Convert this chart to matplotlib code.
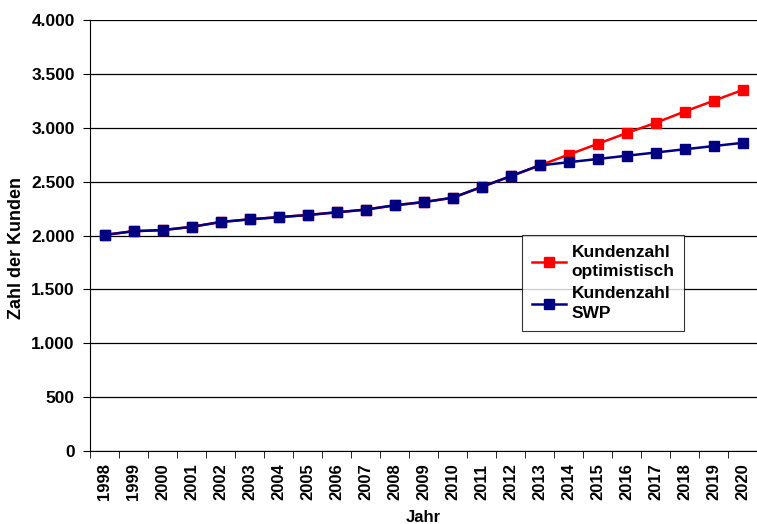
import matplotlib
matplotlib.use("Agg")
import matplotlib.pyplot as plt
from matplotlib.ticker import FuncFormatter

plt.rcParams['font.family'] = ['Liberation Sans', 'DejaVu Sans']

years = [str(y) for y in range(1998, 2021)]
kunden_opt = [2005, 2040, 2050, 2080, 2125, 2150, 2170, 2190, 2215, 2240, 2280, 2310, 2350,
              2450, 2550, 2650, 2750, 2850, 2950, 3045, 3150, 3250, 3350]
kunden_swp = [2005, 2040, 2050, 2080, 2125, 2150, 2170, 2190, 2215, 2240, 2280, 2310, 2350,
              2450, 2550, 2650, 2680, 2710, 2740, 2770, 2800, 2830, 2860]

fig = plt.figure(figsize=(7.57, 5.24), dpi=100)
ax = fig.add_axes([90/757, 73/524, 667/757, 431/524])

x = list(range(len(years)))
ax.plot(x, kunden_opt, color='#ff0000', lw=1.8, marker='s', ms=7, label='Kundenzahl\noptimistisch')
ax.plot(x, kunden_swp, color='#000080', lw=1.8, marker='s', ms=7, label='Kundenzahl\nSWP')

ax.set_xlim(-0.5, len(years) - 0.5)
ax.set_ylim(0, 4000)
ax.set_yticks(range(0, 4001, 500))
ax.yaxis.set_major_formatter(FuncFormatter(lambda v, p: f"{int(v):,}".replace(",", ".")))
ax.grid(axis='y', color='black', lw=0.9)
ax.set_axisbelow(True)

ax.set_xticks(x)
ax.set_xticklabels(years, rotation=90, fontweight='bold', fontsize=12)
ax.set_xticks([i - 0.5 for i in range(len(years) + 1)], minor=True)
ax.tick_params(axis='x', which='major', length=0, pad=9)
ax.tick_params(axis='x', which='minor', length=5, direction='out', color='black')
ax.tick_params(axis='y', length=5, direction='out', pad=6)
for t in ax.get_yticklabels():
    t.set_fontweight('bold')
    t.set_fontsize(12.5)

for s in ['top', 'right']:
    ax.spines[s].set_visible(False)
ax.spines['left'].set_color('black')
ax.spines['bottom'].set_color('black')

ax.set_ylabel('Zahl der Kunden', fontweight='bold', fontsize=13)
ax.yaxis.set_label_coords(-65/667, 0.47)
ax.set_xlabel('Jahr', fontweight='bold', fontsize=12, labelpad=7)

leg = ax.legend(loc='upper left', bbox_to_anchor=(432/667, (451-235)/431), frameon=True,
                fancybox=False, edgecolor='black', fontsize=12.5, handlelength=2.0,
                handletextpad=0.3, borderpad=0.55, labelspacing=0.4, borderaxespad=0)
leg.get_frame().set_linewidth(0.8)
for t in leg.get_texts():
    t.set_fontweight('bold')
    t.set_linespacing(1.4)

fig.savefig('out.png', dpi=100)
